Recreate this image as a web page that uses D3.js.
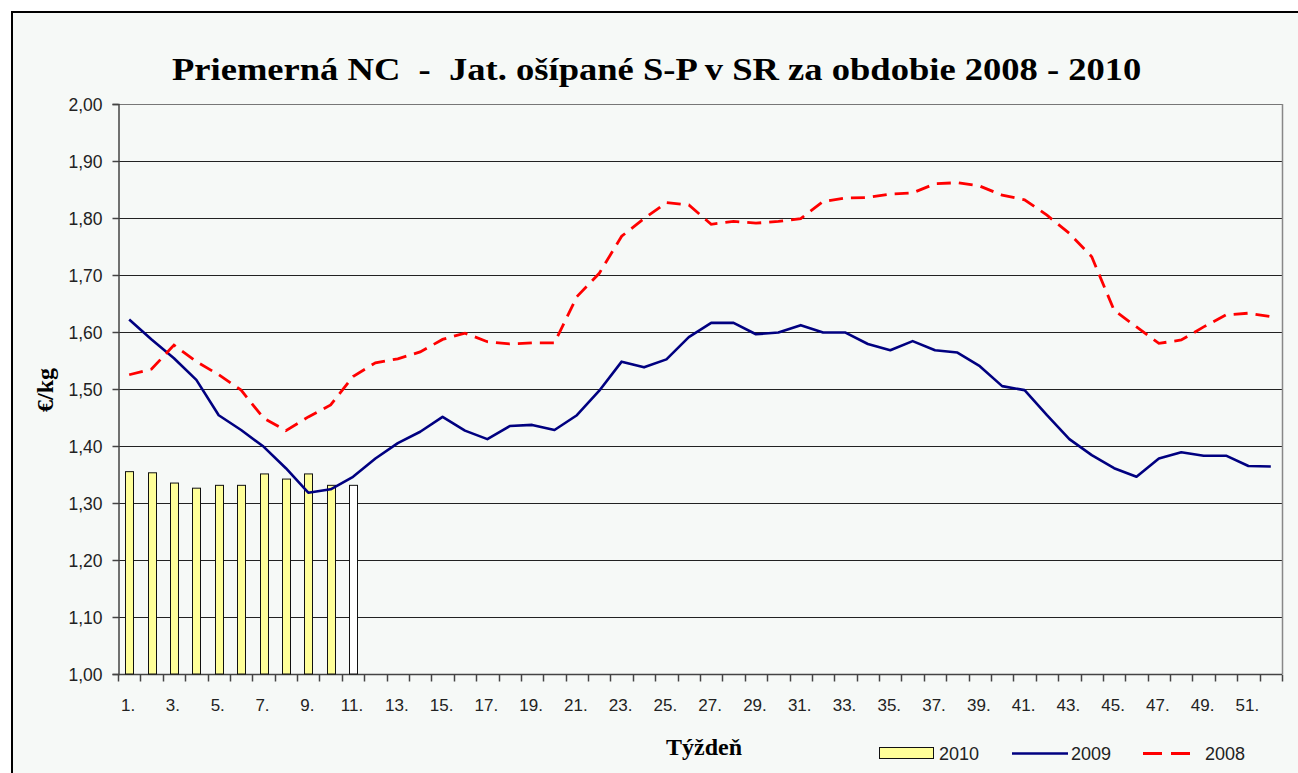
<!DOCTYPE html>
<html><head><meta charset="utf-8">
<script src="https://cdn.jsdelivr.net/npm/d3@7"></script>
<style>
html,body{margin:0;padding:0;background:#fff;}
svg{display:block;}
</style></head>
<body>
<script>
const weeks = [1,2,3,4,5,6,7,8,9,10,11,12,13,14,15,16,17,18,19,20,21,22,23,24,25,26,
  27,28,29,30,31,32,33,34,35,36,37,38,39,40,41,42,43,44,45,46,47,48,49,50,51,52];
const xTickLabels = ["1.","3.","5.","7.","9.","11.","13.","15.","17.","19.","21.","23.","25.",
  "27.","29.","31.","33.","35.","37.","39.","41.","43.","45.","47.","49.","51."];
const yTicks = [1.00,1.10,1.20,1.30,1.40,1.50,1.60,1.70,1.80,1.90,2.00];
const values2010 = [1.355,1.353,1.335,1.326,1.331,1.331,1.351,1.342,1.351,1.331,1.331];
const values2009 = [1.622,1.587,1.554,1.516,1.454,1.428,1.399,1.361,1.318,1.324,
  1.346,1.378,1.405,1.425,1.451,1.427,1.412,1.435,1.437,1.428,
  1.454,1.497,1.548,1.538,1.552,1.591,1.616,1.616,1.596,1.599,
  1.612,1.599,1.599,1.579,1.568,1.584,1.568,1.564,1.540,1.505,
  1.498,1.454,1.412,1.384,1.361,1.346,1.378,1.389,1.383,1.383,
  1.365,1.364];
const values2008 = [1.525,1.535,1.577,1.548,1.525,1.498,1.449,1.427,1.451,1.472,
  1.522,1.546,1.553,1.565,1.587,1.598,1.583,1.579,1.581,1.581,
  1.662,1.703,1.768,1.799,1.827,1.823,1.789,1.794,1.791,1.794,
  1.799,1.829,1.835,1.836,1.842,1.844,1.860,1.862,1.856,1.840,
  1.832,1.805,1.773,1.732,1.638,1.609,1.580,1.586,1.609,1.630,
  1.633,1.627];
const seriesNames = ["2010","2009","2008"];
const title = "Priemerná NC  -  Jat. ošípané S-P v SR za obdobie 2008 - 2010";
const yTitle = "€/kg";
const xTitle = "Týždeň";

const W = 1298, H = 773;
const plot = {left:118, right:1282, top:104, bottom:674};
const bg = "#f6f9f7";

const svg = d3.select("body").append("svg").attr("width",W).attr("height",H);
svg.append("rect").attr("x",0).attr("y",0).attr("width",W).attr("height",H).attr("fill","#fff");
svg.append("rect").attr("x",12).attr("y",12).attr("width",W+20).attr("height",H+20)
  .attr("fill",bg).attr("stroke","#000").attr("stroke-width",2);

const x = d3.scaleBand().domain(weeks).range([plot.left, plot.right]).paddingInner(0).paddingOuter(0);
const y = d3.scaleLinear().domain([1.0, 2.0]).range([plot.bottom, plot.top]);
const cx = w => x(w) + x.bandwidth()/2;

// gridlines
svg.append("g").selectAll("line").data(yTicks.filter(v => v > 1.0)).join("line")
  .attr("x1",plot.left).attr("x2",plot.right)
  .attr("y1",d=>Math.round(y(d))+0.5).attr("y2",d=>Math.round(y(d))+0.5)
  .attr("stroke",d => d===2.0 ? "#777" : "#222").attr("stroke-width",1);
svg.append("line").attr("x1",plot.right+0.5).attr("x2",plot.right+0.5)
  .attr("y1",plot.top).attr("y2",plot.bottom).attr("stroke","#888").attr("stroke-width",1.5);

// y axis
const fmt = d => d.toFixed(2).replace(".", ",");
const yAxis = d3.axisLeft(y).tickValues(yTicks).tickFormat(fmt).tickSize(6).tickPadding(10);
const gy = svg.append("g").attr("transform",`translate(${plot.left+0.5},0)`).call(yAxis);
gy.select(".domain").attr("stroke","#444").attr("stroke-width",1.5);
gy.selectAll(".tick line").attr("stroke","#444").attr("stroke-width",1.5);
gy.selectAll("text").attr("font-family","Liberation Sans, Arial, sans-serif")
  .attr("font-size",17.5).attr("fill","#222").attr("dy","0.35em");

// x axis: ticks between categories
const xb = d3.scaleLinear().domain([0, weeks.length]).range([plot.left, plot.right]);
const gx = svg.append("g").attr("transform",`translate(0,${plot.bottom+0.5})`);
gx.append("line").attr("x1",plot.left).attr("x2",plot.right).attr("stroke","#444").attr("stroke-width",1.5);
gx.selectAll("line.tk").data(d3.range(0, weeks.length+1)).join("line").attr("class","tk")
  .attr("x1",d=>Math.round(xb(d))+0.5).attr("x2",d=>Math.round(xb(d))+0.5)
  .attr("y1",0).attr("y2",7).attr("stroke","#444").attr("stroke-width",1.5);
gx.selectAll("text").data(xTickLabels).join("text")
  .attr("x",d => cx(parseInt(d)) - 1)
  .attr("y",36).attr("text-anchor","middle")
  .attr("font-family","Liberation Sans, Arial, sans-serif").attr("font-size",17).attr("fill","#222")
  .text(d=>d);

// bars 2010
const barW = 8;
svg.append("g").selectAll("rect").data(values2010).join("rect")
  .attr("x",(d,i)=>Math.round(cx(weeks[i]) - barW/2)+0.5)
  .attr("y",d=>y(d))
  .attr("width",barW).attr("height",d=>y(1.0)-y(d))
  .attr("fill",(d,i)=> i===values2010.length-1 ? "#ffffff" : "#ffff99")
  .attr("stroke","#111").attr("stroke-width",1);

// lines
const line = d3.line().x((d,i)=>cx(weeks[i])).y(d=>y(d));
svg.append("path").datum(values2009).attr("d",line).attr("fill","none")
  .attr("stroke","#000080").attr("stroke-width",2.6).attr("stroke-linejoin","round");
svg.append("path").datum(values2008).attr("d",line).attr("fill","none")
  .attr("stroke","#ff0000").attr("stroke-width",2.8).attr("stroke-dasharray","14,8");

// title (horizontally stretched to span 172..1142)
const tg = svg.append("g");
const tt = tg.append("text").attr("x",0).attr("y",0)
  .attr("xml:space","preserve").style("white-space","pre")
  .attr("font-family","Liberation Serif, Times New Roman, serif").attr("font-weight","bold")
  .attr("font-size",31).attr("fill","#000").text(title);
const natW = tt.node().getComputedTextLength();
tg.attr("transform",`translate(172,80) scale(${970/natW},1)`);

// axis titles
svg.append("text").attr("transform","translate(53,390) rotate(-90)").attr("text-anchor","middle")
  .attr("font-family","Liberation Serif, Times New Roman, serif").attr("font-weight","bold")
  .attr("font-size",24).attr("fill","#000").text(yTitle);
svg.append("text").attr("x",704).attr("y",755).attr("text-anchor","middle")
  .attr("font-family","Liberation Serif, Times New Roman, serif").attr("font-weight","bold")
  .attr("font-size",24).attr("fill","#000").text(xTitle);

// legend
const lg = svg.append("g").attr("font-family","Liberation Sans, Arial, sans-serif").attr("font-size",18).attr("fill","#222");
lg.append("rect").attr("x",879.5).attr("y",747.5).attr("width",54).attr("height",11)
  .attr("fill","#ffff99").attr("stroke","#111").attr("stroke-width",1);
lg.append("text").attr("x",939).attr("y",760).text(seriesNames[0]);
lg.append("line").attr("x1",1012).attr("x2",1068).attr("y1",753.5).attr("y2",753.5)
  .attr("stroke","#000080").attr("stroke-width",2.6);
lg.append("text").attr("x",1071).attr("y",760).text(seriesNames[1]);
lg.append("line").attr("x1",1143).attr("x2",1190).attr("y1",753.5).attr("y2",753.5)
  .attr("stroke","#ff0000").attr("stroke-width",2.8).attr("stroke-dasharray","19,9");
lg.append("text").attr("x",1205).attr("y",760).text(seriesNames[2]);
</script>
</body></html>
